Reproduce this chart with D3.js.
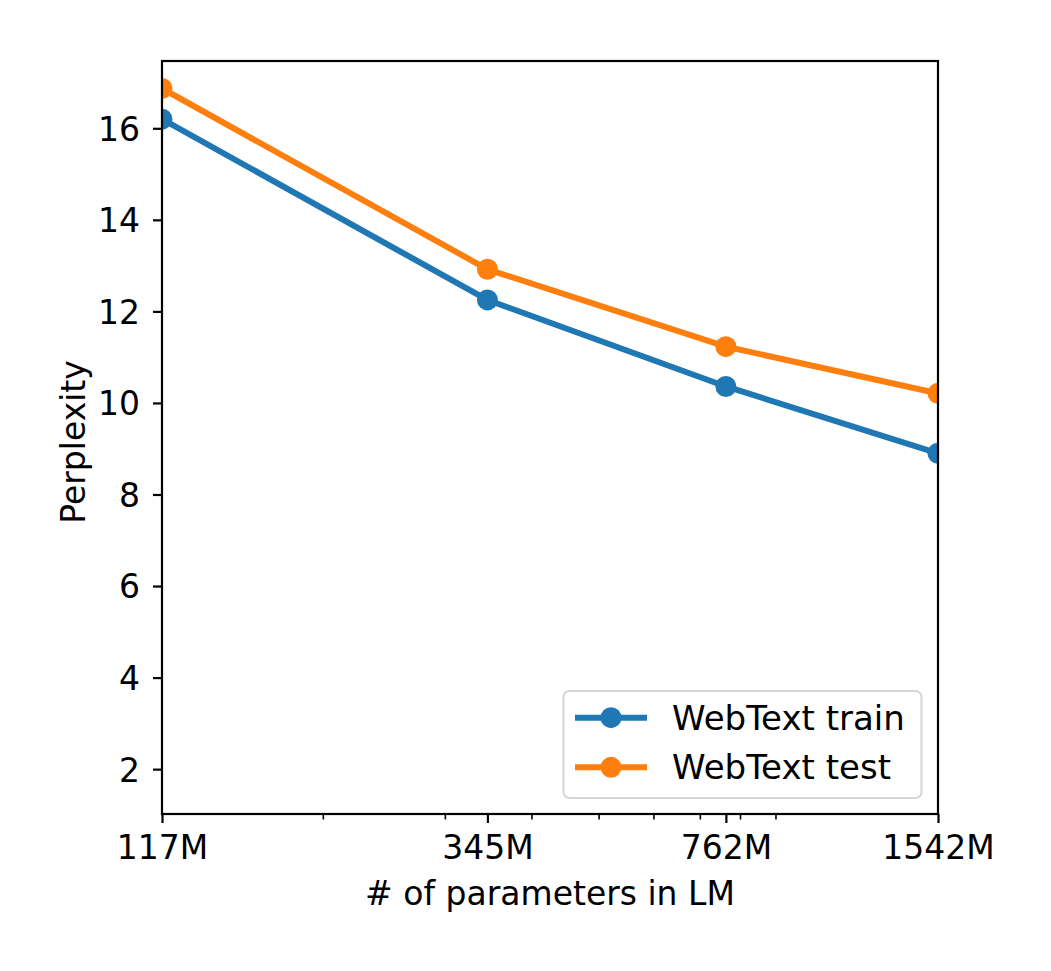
<!DOCTYPE html>
<html>
<head>
<meta charset="utf-8">
<script src="https://cdn.jsdelivr.net/npm/d3@7/dist/d3.min.js"></script>
<style>
  body { margin: 0; background: #fff; }
  text { font-family: "DejaVu Sans", sans-serif; fill: #000; }
</style>
</head>
<body>
<div id="chart"></div>
<script>
// data
var params = [117, 345, 762, 1542];          // model size, millions of parameters
var tickLabels = ["117M", "345M", "762M", "1542M"];
var trainPpl = [16.2, 12.25, 10.36, 8.9];
var testPpl = [16.87, 12.92, 11.23, 10.21];
var seriesNames = ["WebText train", "WebText test"];
var seriesColors = ["#1f77b4", "#ff7f0e"];
var yTicks = [2, 4, 6, 8, 10, 12, 14, 16];
var minorTicks = [200, 300, 400, 500, 600, 700, 800, 900];

var width = 1051, height = 971;
// plot box edges ("top" is taken by window.top, so prefix them)
var boxL = 162, boxR = 938, boxT = 61, boxB = 814;
var fontSize = 33;

var x = d3.scaleLog().domain([117, 1542]).range([boxL, boxR]);
var y = d3.scaleLinear().domain([1.02, 17.47]).range([boxB, boxT]);

var svg = d3.select("#chart").append("svg")
    .attr("width", width)
    .attr("height", height);

svg.append("defs").append("clipPath")
    .attr("id", "plotClip")
  .append("rect")
    .attr("x", boxL).attr("y", boxT)
    .attr("width", boxR - boxL).attr("height", boxB - boxT);

// series lines + markers
var series = [trainPpl, testPpl];
var line = d3.line()
    .x(function(d, i) { return x(params[i]); })
    .y(function(d) { return y(d); });

var plot = svg.append("g").attr("clip-path", "url(#plotClip)");

series.forEach(function(vals, s) {
    plot.append("path")
        .attr("d", line(vals))
        .attr("fill", "none")
        .attr("stroke", seriesColors[s])
        .attr("stroke-width", 6)
        .attr("stroke-linejoin", "round")
        .attr("stroke-linecap", "square");
    plot.selectAll(".m" + s)
        .data(vals)
      .enter().append("circle")
        .attr("cx", function(d, i) { return x(params[i]); })
        .attr("cy", function(d) { return y(d); })
        .attr("r", 10.5)
        .attr("fill", seriesColors[s]);
});

// y axis
var yAxis = d3.axisLeft(y).tickValues(yTicks).tickSize(9).tickPadding(13);
var gy = svg.append("g").attr("transform", "translate(" + boxL + ",0)").call(yAxis);

// x axis, major ticks at the model sizes, minor log ticks
var xAxis = d3.axisBottom(x).tickValues(params).tickSize(9).tickPadding(12)
    .tickFormat(function(d, i) { return tickLabels[i]; });
var gx = svg.append("g").attr("transform", "translate(0," + boxB + ")").call(xAxis);

svg.append("g").selectAll("line")
    .data(minorTicks)
  .enter().append("line")
    .attr("x1", function(d) { return x(d); })
    .attr("x2", function(d) { return x(d); })
    .attr("y1", boxB)
    .attr("y2", boxB + 5.5)
    .attr("stroke", "#000")
    .attr("stroke-width", 1.6);

[gx, gy].forEach(function(g) {
    g.select(".domain").remove();
    g.selectAll(".tick line").attr("stroke", "#000").attr("stroke-width", 2.2);
    g.selectAll(".tick text")
        .attr("font-size", fontSize)
        .attr("font-family", "DejaVu Sans")
        .attr("fill", "#000");
});
gy.selectAll(".tick text").attr("dy", "0.36em");
gx.selectAll(".tick text").attr("dy", "0.74em");

// frame
svg.append("rect")
    .attr("x", boxL).attr("y", boxT)
    .attr("width", boxR - boxL).attr("height", boxB - boxT)
    .attr("fill", "none")
    .attr("stroke", "#000")
    .attr("stroke-width", 2.2);

// axis titles
svg.append("text")
    .attr("x", (boxL + boxR) / 2)
    .attr("y", 905)
    .attr("text-anchor", "middle")
    .attr("font-size", fontSize)
    .text("# of parameters in LM");

svg.append("text")
    .attr("transform", "translate(85,442) rotate(-90)")
    .attr("text-anchor", "middle")
    .attr("font-size", fontSize)
    .text("Perplexity");

// legend
var legend = svg.append("g");
legend.append("rect")
    .attr("x", 563.5).attr("y", 691)
    .attr("width", 358).attr("height", 107)
    .attr("rx", 6).attr("ry", 6)
    .attr("fill", "#fff").attr("fill-opacity", 0.8)
    .attr("stroke", "#d6d6d6")
    .attr("stroke-width", 2);

seriesNames.forEach(function(name, s) {
    var cy = 717.7 + s * 49.6;
    legend.append("line")
        .attr("x1", 575).attr("x2", 647)
        .attr("y1", cy).attr("y2", cy)
        .attr("stroke", seriesColors[s])
        .attr("stroke-width", 6);
    legend.append("circle")
        .attr("cx", 611).attr("cy", cy).attr("r", 10.5)
        .attr("fill", seriesColors[s]);
    legend.append("text")
        .attr("x", 672)
        .attr("y", cy + 12)
        .attr("font-size", 34)
        .text(name);
});
</script>
</body>
</html>
